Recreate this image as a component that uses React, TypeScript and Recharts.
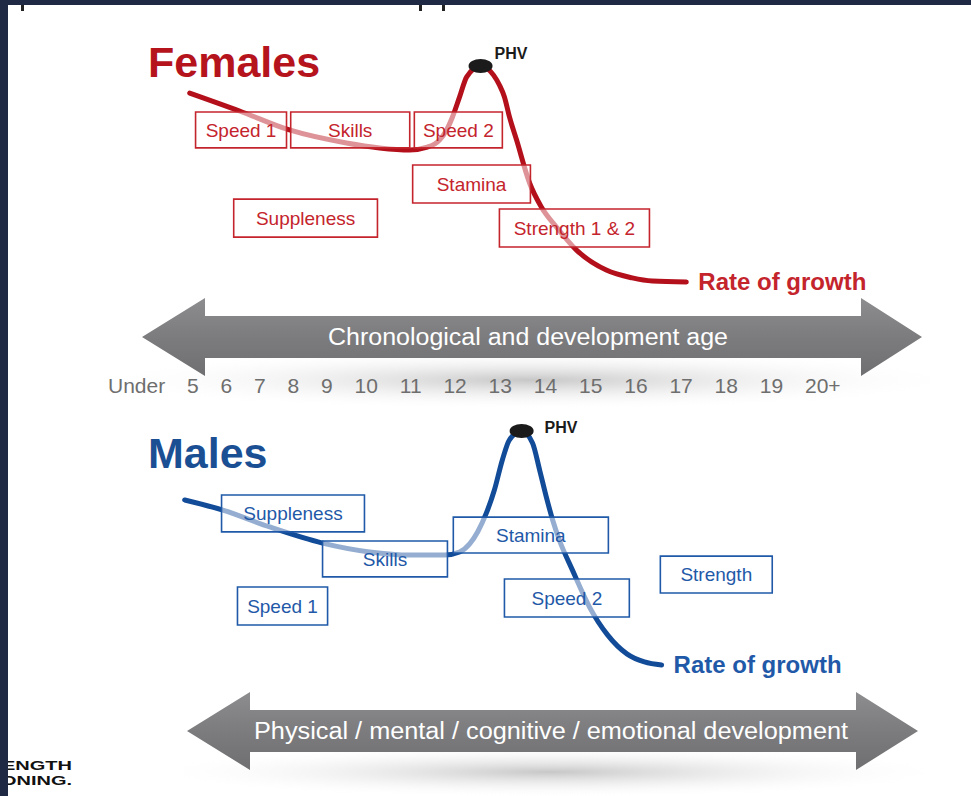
import React from 'react';
import { ComposedChart, Line, XAxis, YAxis, ReferenceArea, ReferenceDot } from 'recharts';

// age row under the top arrow
const AGE_LABELS = ['Under', '5', '6', '7', '8', '9', '10', '11', '12', '13', '14', '15', '16', '17', '18', '19', '20+'];

// rate of growth curves (age in years, rate in cm / year)
const FEMALE_AGES = [4.93, 6.12, 7.31, 8.67, 9.46, 10.18, 10.6, 10.89, 11.06, 11.2, 11.37, 11.54, 11.87, 12.18, 12.32, 12.44, 12.56, 12.73, 13.04, 13.32, 13.68, 14.16, 14.87, 15.49, 15.97, 16.78];
const FEMALE_RATES = [7.96, 7.27, 6.54, 6.04, 5.85, 5.77, 5.88, 6.15, 6.54, 7.04, 7.81, 8.58, 9.0, 8.65, 8.27, 7.81, 7.04, 6.15, 4.5, 3.58, 2.81, 1.92, 1.15, 0.85, 0.73, 0.69];

const MALE_AGES = [4.81, 5.72, 6.84, 8.1, 9.22, 10.18, 11.01, 11.37, 11.61, 11.8, 12.01, 12.2, 12.39, 12.56, 12.85, 13.11, 13.28, 13.44, 13.59, 13.75, 14.06, 14.47, 14.9, 15.37, 15.78, 16.19];
const MALE_RATES = [7.31, 6.92, 6.27, 5.65, 5.31, 5.19, 5.19, 5.31, 5.62, 6.08, 6.81, 7.69, 8.85, 9.62, 9.96, 9.5, 8.46, 7.42, 6.54, 5.77, 4.62, 3.19, 2.12, 1.38, 1.08, 0.96];

// training windows: age span and rate span
const FEMALE_BOXES = [
  { label: 'Speed 1', from: 5.07, to: 7.24, low: 5.85, high: 7.23 },
  { label: 'Skills', from: 7.34, to: 10.18, low: 5.85, high: 7.23 },
  { label: 'Speed 2', from: 10.29, to: 12.39, low: 5.85, high: 7.23 },
  { label: 'Stamina', from: 10.25, to: 13.06, low: 3.73, high: 5.19 },
  { label: 'Strength 1 & 2', from: 12.32, to: 15.9, low: 2.04, high: 3.5 },
  { label: 'Suppleness', from: 5.98, to: 9.41, low: 2.42, high: 3.88 },
];

const MALE_BOXES = [
  { label: 'Suppleness', from: 5.69, to: 9.1, low: 6.08, high: 7.5 },
  { label: 'Skills', from: 8.1, to: 11.08, low: 4.35, high: 5.73 },
  { label: 'Stamina', from: 11.22, to: 14.92, low: 5.27, high: 6.65 },
  { label: 'Speed 1', from: 6.07, to: 8.22, low: 2.5, high: 3.96 },
  { label: 'Speed 2', from: 12.44, to: 15.42, low: 2.81, high: 4.27 },
  { label: 'Strength', from: 16.16, to: 18.83, low: 3.73, high: 5.15 },
];

const FONT = '"Liberation Sans", Arial, Helvetica, sans-serif';

type Box = { label: string; from: number; to: number; low: number; high: number };

type PanelProps = {
  ages: number[];
  rates: number[];
  boxes: Box[];
  curve: string;
  ink: string;
  top: number;
  phvDx: number;
  phvDy: number;
};

const GrowthPanel = ({ ages, rates, boxes, curve, ink, top, phvDx, phvDy }: PanelProps) => {
  const data = ages.map((age, i) => ({ age, rate: rates[i] }));
  const peak = data.reduce((a, b) => (b.rate > a.rate ? b : a));
  const last = data[data.length - 1];

  return (
    <div style={{ position: 'absolute', left: 25, top }}>
      <ComposedChart width={922} height={286} data={data} margin={{ top: 0, right: 0, bottom: 0, left: 0 }}>
        <XAxis type="number" dataKey="age" domain={[1, 23]} hide />
        <YAxis type="number" domain={[0, 11]} hide />
        <Line
          type="monotone"
          dataKey="rate"
          stroke={curve}
          strokeWidth={5}
          strokeLinecap="round"
          dot={false}
          activeDot={false}
          isAnimationActive={false}
        />
        {boxes.map((b) => (
          <ReferenceArea
            key={b.label}
            x1={b.from}
            x2={b.to}
            y1={b.low}
            y2={b.high}
            fill="#ffffff"
            fillOpacity={0.55}
            stroke={ink}
            strokeWidth={1.6}
            strokeOpacity={1}
            zIndex={450}
            label={{ value: b.label, position: 'center', fill: ink, fontSize: 19, fontFamily: FONT }}
          />
        ))}
        <ReferenceDot
          x={peak.age}
          y={peak.rate}
          r={8}
          zIndex={500}
          shape={(p: any) => (
            <g>
              <ellipse cx={p.cx} cy={p.cy} rx={12} ry={7} fill="#1b1b1b" />
              <text x={p.cx + phvDx} y={p.cy + phvDy} fontSize={16} fontWeight="bold" fill="#1b1b1b" fontFamily={FONT}>
                PHV
              </text>
            </g>
          )}
        />
        <ReferenceDot
          x={last.age}
          y={last.rate}
          r={1}
          zIndex={500}
          shape={(p: any) => (
            <text x={p.cx + 12} y={p.cy + 8} fontSize={24} fontWeight="bold" fill={ink} fontFamily={FONT}>
              Rate of growth
            </text>
          )}
        />
      </ComposedChart>
    </div>
  );
};

const DoubleArrow = ({ tipL, backL, backR, tipR, mid, half, head }: { tipL: number; backL: number; backR: number; tipR: number; mid: number; half: number; head: number }) => (
  <polygon
    points={[
      [tipL, mid], [backL, mid - head], [backL, mid - half], [backR, mid - half], [backR, mid - head],
      [tipR, mid], [backR, mid + head], [backR, mid + half], [backL, mid + half], [backL, mid + head],
    ].map((p) => p.join(',')).join(' ')}
    fill="url(#arrowFill)"
  />
);

export default function App() {
  return (
    <div style={{ position: 'absolute', left: 0, top: 0, width: 971, height: 796, overflow: 'hidden', background: '#ffffff', fontFamily: FONT }}>
      <svg width={971} height={796} style={{ position: 'absolute', left: 0, top: 0 }}>
        <defs>
          <linearGradient id="arrowFill" x1="0" y1="0" x2="0" y2="1">
            <stop offset="0" stopColor="#8d8d8f" />
            <stop offset="0.5" stopColor="#7c7c7e" />
            <stop offset="1" stopColor="#6f6f71" />
          </linearGradient>
          <radialGradient id="glow">
            <stop offset="0" stopColor="#c4c4c4" stopOpacity="0.95" />
            <stop offset="1" stopColor="#ffffff" stopOpacity="0" />
          </radialGradient>
        </defs>

        <ellipse cx={530} cy={380} rx={440} ry={30} fill="url(#glow)" />
        <ellipse cx={550} cy={772} rx={410} ry={26} fill="url(#glow)" />

        <DoubleArrow tipL={142} backL={205} backR={861} tipR={922} mid={337} half={21} head={39} />
        <DoubleArrow tipL={187} backL={250} backR={856} tipR={918} mid={731} half={21} head={39} />

        <text x={528} y={345} textAnchor="middle" fontSize={23} fill="#ffffff" textLength={400} lengthAdjust="spacingAndGlyphs">
          Chronological and development age
        </text>
        <text x={551} y={739} textAnchor="middle" fontSize={23} fill="#ffffff" textLength={594} lengthAdjust="spacingAndGlyphs">
          Physical / mental / cognitive / emotional development
        </text>

        <text x={108} y={393} fontSize={21} fill="#6e6e6e" wordSpacing={16} style={{ whiteSpace: 'pre' }}>
          {AGE_LABELS.join(' ')}
        </text>

        <text x={148} y={77} fontSize={43} fontWeight="bold" fill="#b5141d">Females</text>
        <text x={148} y={468} fontSize={43} fontWeight="bold" fill="#1b4f94">Males</text>

        <text x={2} y={770} fontSize={13} fontWeight="bold" fill="#111" textLength={70} lengthAdjust="spacingAndGlyphs">ENGTH</text>
        <text x={1} y={785} fontSize={13} fontWeight="bold" fill="#111" textLength={71} lengthAdjust="spacingAndGlyphs">ONING.</text>

        <rect x={0} y={0} width={8} height={796} fill="#1f2944" />
        <rect x={0} y={0} width={971} height={5} fill="#1f2944" />
        <rect x={21} y={5} width={3} height={6} fill="#222" />
        <rect x={419} y={5} width={3} height={6} fill="#222" />
        <rect x={442} y={5} width={3} height={6} fill="#222" />
      </svg>

      <GrowthPanel
        ages={FEMALE_AGES}
        rates={FEMALE_RATES}
        boxes={FEMALE_BOXES}
        curve="#b3101b"
        ink="#c4242c"
        top={14}
        phvDx={14}
        phvDy={-7}
      />
      <GrowthPanel
        ages={MALE_AGES}
        rates={MALE_RATES}
        boxes={MALE_BOXES}
        curve="#124b97"
        ink="#1f59a8"
        top={404}
        phvDx={23}
        phvDy={2}
      />
    </div>
  );
}
